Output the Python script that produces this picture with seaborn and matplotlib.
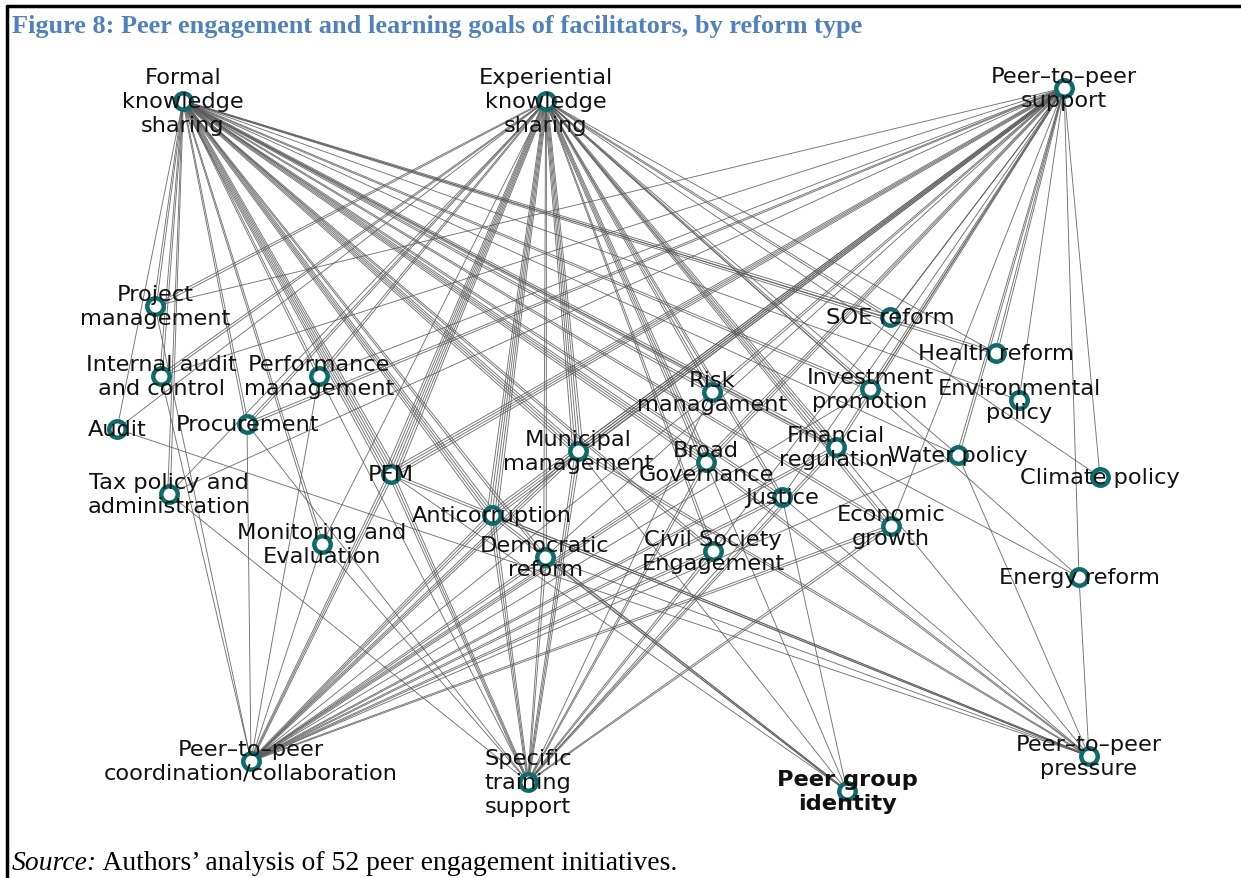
import numpy as np
import pandas as pd
import seaborn as sns
import matplotlib.pyplot as plt
from matplotlib.lines import Line2D

plt.switch_backend('Agg')
sns.set_theme(style="white")
plt.rcParams['font.family'] = ['DejaVu Sans']

# goal nodes (top and bottom rows) and reform-type nodes, layout in picture units
goal_names = ["Formal", "Experiential", "Support", "Coordination", "Training", "Identity", "Pressure"]
goal_labels = ["Formal\nknowledge\nsharing", "Experiential\nknowledge\nsharing", "Peer\u2013to\u2013peer\nsupport",
               "Peer\u2013to\u2013peer\ncoordination/collaboration", "Specific\ntraining\nsupport",
               "Peer group\nidentity", "Peer\u2013to\u2013peer\npressure"]
goal_x = [183, 546, 1064, 251, 528, 847, 1089]
goal_y = [102, 102, 89, 762, 783, 792, 757]

reform_names = ["ProjM", "IntAudit", "PerfM", "Audit", "Procurement", "Tax", "Monitoring", "PFM",
                "Anticorr", "Democratic", "Municipal", "Risk", "BroadGov", "CivilSoc", "Justice",
                "FinReg", "Investment", "SOE", "Health", "Environmental", "Water", "Climate",
                "EconGrowth", "Energy"]
reform_labels = ["Project\nmanagement", "Internal audit\nand control", "Performance\nmanagement", "Audit",
                 "Procurement", "Tax policy and\nadministration", "Monitoring and\nEvaluation", "PFM",
                 "Anticorruption", "Democratic\nreform", "Municipal\nmanagement", "Risk\nmanagament",
                 "Broad\nGovernance", "Civil Society\nEngagement", "Justice", "Financial\nregulation",
                 "Investment\npromotion", "SOE reform", "Health reform", "Environmental\npolicy",
                 "Water policy", "Climate policy", "Economic\ngrowth", "Energy reform"]
reform_x = [155, 161, 319, 117, 247, 169, 322, 391, 492, 545, 578, 712, 706, 713, 782,
            836, 870, 890, 996, 1019, 958, 1100, 891, 1079]
reform_y = [307, 377, 377, 430, 425, 495, 545, 475, 516, 558, 452, 393, 463, 552, 498,
            448, 390, 318, 354, 401, 456, 478, 527, 578]

# number of initiatives linking each goal to each reform type
links_formal = {"ProjM": 2, "IntAudit": 2, "Audit": 1, "Tax": 2, "Procurement": 2, "PerfM": 2,
                "Monitoring": 2, "PFM": 6, "Anticorr": 4, "Democratic": 2, "Municipal": 4, "Risk": 2,
                "BroadGov": 4, "CivilSoc": 2, "Justice": 2, "FinReg": 3, "Investment": 2, "SOE": 2,
                "Health": 2, "EconGrowth": 2, "Environmental": 1, "Water": 1, "Energy": 1}
links_experiential = {"ProjM": 2, "IntAudit": 2, "Audit": 1, "Tax": 1, "Procurement": 2, "PerfM": 2,
                      "Monitoring": 1, "PFM": 6, "Anticorr": 5, "Democratic": 2, "Municipal": 5,
                      "Risk": 2, "BroadGov": 4, "CivilSoc": 2, "Justice": 2, "FinReg": 3,
                      "Investment": 2, "SOE": 2, "Health": 1, "EconGrowth": 2, "Water": 1,
                      "Climate": 1, "Energy": 1}
links_support = {"ProjM": 1, "IntAudit": 1, "Tax": 1, "Procurement": 2, "PerfM": 1, "PFM": 4,
                 "Anticorr": 4, "Democratic": 1, "Municipal": 4, "Risk": 2, "BroadGov": 3,
                 "CivilSoc": 1, "Justice": 1, "FinReg": 2, "Investment": 2, "SOE": 1, "Health": 2,
                 "Water": 2, "Environmental": 1, "Climate": 1, "Energy": 1, "EconGrowth": 1}
links_coordination = {"IntAudit": 1, "ProjM": 1, "Procurement": 1, "Monitoring": 1, "PerfM": 1,
                      "PFM": 3, "Anticorr": 3, "Democratic": 2, "Municipal": 3, "BroadGov": 3,
                      "Risk": 1, "CivilSoc": 2, "Justice": 2, "FinReg": 2, "EconGrowth": 2,
                      "Investment": 1, "Water": 1}
links_training = {"PerfM": 1, "Procurement": 1, "Monitoring": 1, "PFM": 3, "Anticorr": 3,
                  "Democratic": 2, "Municipal": 3, "BroadGov": 2, "CivilSoc": 2, "Justice": 1,
                  "FinReg": 2, "EconGrowth": 2, "Risk": 1, "Tax": 1}
links_identity = {"PFM": 1, "Anticorr": 2, "Democratic": 2, "Municipal": 1, "Justice": 1,
                  "BroadGov": 1}
links_pressure = {"Audit": 1, "PFM": 2, "Anticorr": 2, "Democratic": 1, "Municipal": 2,
                  "BroadGov": 2, "Justice": 1, "FinReg": 1, "Water": 1, "Energy": 1}
goal_links = [links_formal, links_experiential, links_support, links_coordination,
              links_training, links_identity, links_pressure]

nodes = pd.DataFrame({
    "name": goal_names + reform_names,
    "label": goal_labels + reform_labels,
    "x": goal_x + reform_x,
    "y": goal_y + reform_y,
})
pos = nodes.set_index("name")[["x", "y"]]

fig = plt.figure(figsize=(12.41, 8.79), dpi=100)
ax = fig.add_axes([0, 0, 1, 1])
ax.set_xlim(0, 1241)
ax.set_ylim(879, 0)
ax.axis("off")

# edges, parallel strands for repeated links (they meet at the goal node)
for gname, links in zip(goal_names, goal_links):
    x0, y0 = pos.loc[gname]
    for rname, k in links.items():
        x1, y1 = pos.loc[rname]
        d = np.hypot(x1 - x0, y1 - y0)
        nx, ny = -(y1 - y0) / d, (x1 - x0) / d
        for i in range(k):
            off = (i - (k - 1) / 2) * 2.6
            ax.plot([x0 + nx * off * 0.3, x1 + nx * off], [y0 + ny * off * 0.3, y1 + ny * off],
                    color="#5a5a5a", lw=0.65, alpha=0.85, zorder=1, solid_capstyle="butt")

sns.scatterplot(data=nodes, x="x", y="y", ax=ax, s=140, marker="o", facecolor="white",
                edgecolor="#0d6b6b", linewidth=3.2, zorder=3, legend=False)

for _, r in nodes.iterrows():
    weight = "bold" if r["name"] == "Identity" else "normal"
    ax.text(r["x"], r["y"], r["label"], ha="center", va="center", fontsize=16.2,
            color="#111111", fontweight=weight, linespacing=1.22, zorder=4)

# frame
fig.add_artist(Line2D([7 / 1241, 1], [1 - 7 / 879, 1 - 7 / 879], color="black", lw=2.5))
fig.add_artist(Line2D([7 / 1241, 7 / 1241], [0, 1 - 7 / 879], color="black", lw=2.5))

ax.text(12, 26, "Figure 8: Peer engagement and learning goals of facilitators, by reform type",
        family="Liberation Serif", fontweight="bold", fontsize=18.9, color="#4F81BD",
        ha="left", va="center")
src = ax.text(12, 864, "Source:", family="Liberation Serif", style="italic", fontsize=19.9,
              color="black", ha="left", va="center")
ax.annotate(" Authors\u2019 analysis of 52 peer engagement initiatives.", xy=(1, 0.5),
            xycoords=src, family="Liberation Serif", fontsize=19.9, color="black",
            ha="left", va="center")

plt.savefig("out.png", dpi=100)
